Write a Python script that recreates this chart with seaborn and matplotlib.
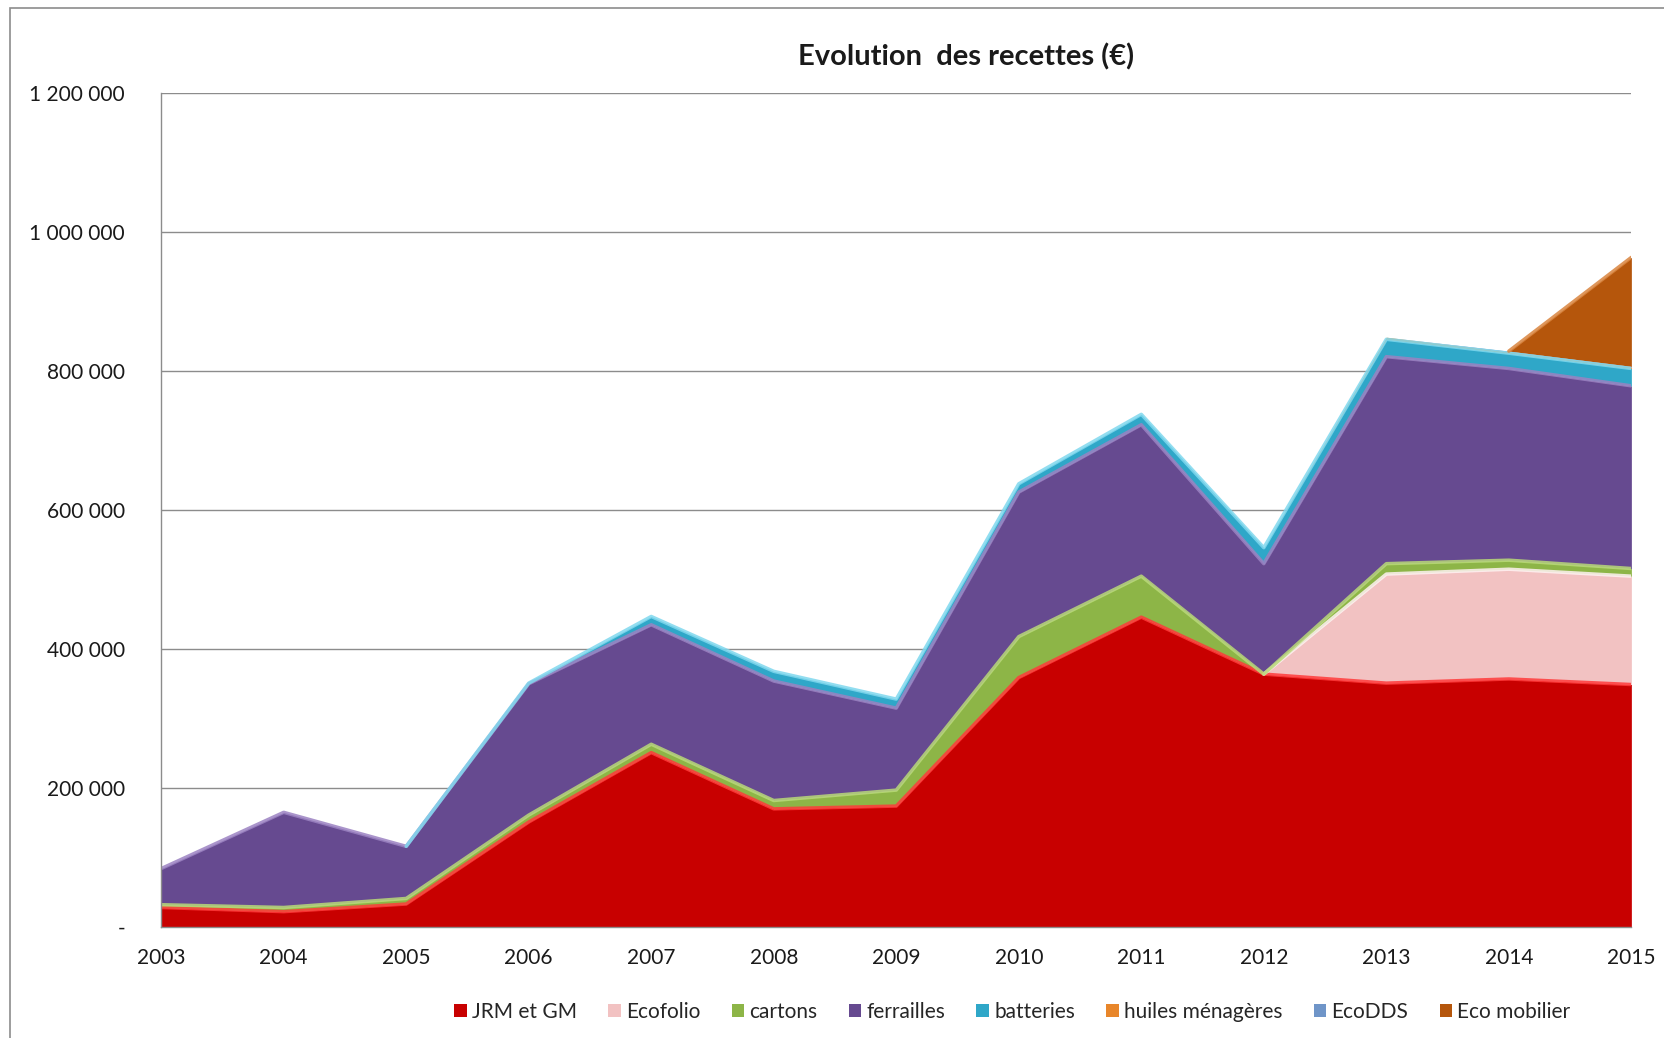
import numpy as np
import pandas as pd
import matplotlib
matplotlib.use("Agg")
import matplotlib.pyplot as plt
from matplotlib.patches import Rectangle
from matplotlib.ticker import FuncFormatter
import seaborn as sns

# Years on the x axis
years = [2003, 2004, 2005, 2006, 2007, 2008, 2009, 2010, 2011, 2012, 2013, 2014, 2015]

# Receipts per source (EUR)
jrm_gm       = [28000, 22000, 33000, 151000, 251000, 170000, 174000, 359000, 446000, 364000, 351000, 357000, 349000]
ecofolio     = [0, 0, 0, 0, 0, 0, 0, 0, 0, 0, 157000, 158000, 156000]
cartons      = [4000, 6000, 8000, 10000, 12000, 12000, 23000, 59000, 59000, 0, 15000, 13000, 11000]
ferrailles   = [52000, 137000, 75000, 189000, 172000, 172000, 118000, 208000, 218000, 159000, 298000, 276000, 263000]
batteries    = [0, 0, 0, 1000, 12000, 14000, 13000, 12000, 15000, 23000, 25000, 22000, 25000]
huiles       = [0, 0, 0, 0, 0, 0, 0, 0, 0, 0, 3000, 2000, 2000]
ecodds       = [0, 0, 0, 0, 0, 0, 0, 0, 0, 0, 0, 1000, 1000]
eco_mobilier = [0, 0, 0, 0, 0, 0, 0, 0, 0, 0, 0, 0, 157000]

series_names = ['JRM et GM', 'Ecofolio', 'cartons', 'ferrailles', 'batteries',
                'huiles ménagères', 'EcoDDS', 'Eco mobilier']
series_values = [jrm_gm, ecofolio, cartons, ferrailles, batteries, huiles, ecodds, eco_mobilier]

# Fill colours and lighter "bevel" edge colours (Excel 2010 look), None = no edge
fill_colors = ['#C80000', '#F2C2C2', '#8DB547', '#664A90', '#2FA7C8', '#E8862A', '#6F95C8', '#B5560C']
edge_colors = ['#FF3A3A', '#FFF2F2', '#B9DA78', '#9B82C2', '#7FD8EE', None, None, '#D9843E']

df = pd.DataFrame(dict(zip(series_names, series_values)), index=years)
cum = df.cumsum(axis=1)

sns.set_style("white")
plt.rcParams['font.family'] = ['Lato', 'DejaVu Sans']

fig = plt.figure(figsize=(16.65, 10.38), dpi=100)
ax = fig.add_axes([0.0968, 0.107, 0.883, 0.803])

ax.set_axisbelow(True)
ax.yaxis.grid(True, color='#8c8c8c', linewidth=1)
ax.xaxis.grid(False)

polys = ax.stackplot(years, *[df[n].values for n in series_names],
                     colors=fill_colors, labels=series_names, linewidth=0)

# Light edge along the top of each band
for name, ec in zip(series_names, edge_colors):
    if ec is None:
        continue
    v = df[name].values
    keep = np.array([v[i] > 0 or (i > 0 and v[i - 1] > 0) or (i < len(v) - 1 and v[i + 1] > 0)
                     for i in range(len(v))])
    sub = pd.DataFrame({'year': np.array(years)[keep], 'top': cum[name].values[keep]})
    sns.lineplot(data=sub, x='year', y='top', ax=ax, color=ec, linewidth=2.5,
                 alpha=0.85, legend=False)

ax.set_xlim(2003, 2015)
ax.set_ylim(0, 1200000)
ax.set_xticks(years)
ax.set_xticklabels([str(y) for y in years])
ax.set_yticks(range(0, 1200001, 200000))
ax.yaxis.set_major_formatter(FuncFormatter(
    lambda v, p: '-' if v == 0 else f"{int(v):,}".replace(',', ' ')))
ax.set_xlabel('')
ax.set_ylabel('')

for s in ['top', 'right']:
    ax.spines[s].set_visible(False)
for s in ['left', 'bottom']:
    ax.spines[s].set_color('#8c8c8c')
    ax.spines[s].set_linewidth(1)

ax.tick_params(axis='x', direction='out', length=6, color='#8c8c8c',
               labelsize=15, pad=9, labelcolor='#1a1a1a')
ax.tick_params(axis='y', length=0, labelsize=15, pad=26, labelcolor='#1a1a1a')

fig.text(0.580, 0.945, 'Evolution  des recettes (€)', ha='center', va='center',
         fontsize=21, fontweight='bold', color='#1a1a1a')

fig.legend(polys, series_names, loc='center', bbox_to_anchor=(0.608, 0.025),
           ncol=8, frameon=False, fontsize=15, handlelength=0.6, handleheight=0.6,
           handletextpad=0.25, columnspacing=1.5)

# Outer chart-area border
fig.patches.append(Rectangle((0.006, -0.05), 1.1, 1.042, transform=fig.transFigure,
                             fill=False, edgecolor='#8c8c8c', linewidth=1.2))

fig.savefig('out.png', dpi=100)
